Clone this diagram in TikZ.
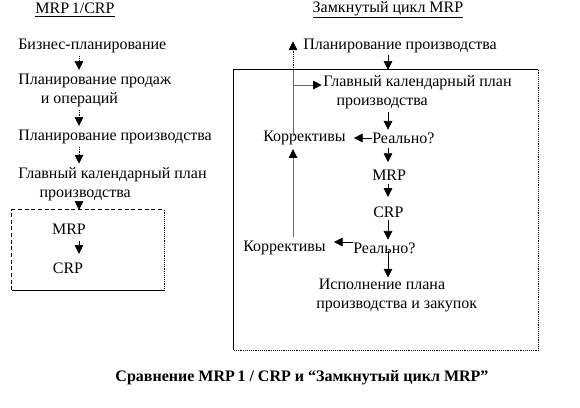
\documentclass[tikz,border=0pt]{standalone}
\usepackage{fontspec}
\setmainfont{Liberation Serif}
\usetikzlibrary{arrows.meta,positioning}

\tikzset{
  lbl/.style={anchor=west, align=left, inner sep=0pt},
  ttl/.style={inner sep=0pt},
  tip/.style={-{Triangle[length=6.5pt,width=6.5pt,color=black]}},
  dotarr/.style={tip, densely dotted},
  arr/.style={tip},
  backline/.style={gray!80!black, semithick}
}

\begin{document}
\begin{tikzpicture}[
  x=0.75pt, y=-0.75pt,
  font=\fontsize{12}{14.25}\selectfont
]

\useasboundingbox (0,0) rectangle (580,407);

% column guides
\coordinate (lx) at (79,0);
\coordinate (rx) at (388,0);
\coordinate (kx) at (293,0);

% ==================== LEFT: MRP 1 / CRP ====================
\node[ttl] (ltitle) at (75,10) {\underline{MRP\,1/CRP}};

\node[lbl] (biz)   at (18,46)   {Бизнес-планирование};
\node[lbl] (sales) at (18,90.5) {Планирование продаж\\\hspace*{17pt}и операций};
\node[lbl] (plan)  at (18,137)  {Планирование производства};
\node[lbl] (mps)   at (18,184.5){Главный календарный план\\\hspace*{16pt}производства};

% dotted box
\node[minimum width=114pt, minimum height=60pt, inner sep=0pt] (lbox) at (88,250) {};
\draw[densely dashed] (lbox.south west) -- (lbox.north west) -- (lbox.north east);
\draw[densely dotted] (lbox.north east) -- (lbox.south east);
\draw (lbox.south east) -- (lbox.south west);

\node[ttl] (mrp1) at (69,229) {MRP};
\node[ttl] (crp1) at (68,268) {CRP};

\draw[dotarr] ([yshift=-2pt]biz.south -| lx)   -- ([yshift=3pt]sales.north -| lx);
\draw[dotarr] ([yshift=-2pt]sales.south -| lx) -- ([yshift=3pt]plan.north -| lx);
\draw[dotarr] ([yshift=-2pt]plan.south -| lx)  -- ([yshift=3pt]mps.north -| lx);
\draw[dotarr] ([yshift=-1pt]mps.south -| lx)   -- (lbox.north -| lx);
\draw[arr, shorten <=4.9pt, shorten >=6.4pt] (mrp1.south -| lx) -- (crp1.north -| lx);

% ==================== RIGHT: closed-loop MRP ====================
\node[ttl] (rtitle) at (388,10) {\underline{Замкнутый цикл MRP}};

\node[lbl] (plan2) at (303,46) {Планирование производства};

\node[minimum width=228pt, minimum height=210pt, inner sep=0pt] (rbox) at (386,210) {};
\draw (rbox.south west) -- (rbox.north west) -- (rbox.north east);
\draw[densely dotted] (rbox.north east) -- (rbox.south east) -- (rbox.south west);

\node[lbl] (mps2)  at (323,92.5) {Главный календарный план\\\hspace*{10pt}производства};
\node[lbl] (real1) at (372,138)  {Реально?};
\node[lbl] (korr1) at (263,138)  {Коррективы};
\node[lbl] (mrp2)  at (372,175)  {MRP};
\node[lbl] (crp2)  at (373,212)  {CRP};
\node[lbl] (real2) at (353,248)  {Реально?};
\node[lbl] (korr2) at (243,248)  {Коррективы};
\node[lbl] (exec)  at (316,295.5){\hspace*{2pt}Исполнение плана\\производства и закупок};

\draw[arr] ([yshift=-1pt]plan2.south -| rx) -- (rbox.north -| rx);
\draw[arr, shorten <=2pt, shorten >=2pt] (mps2.south -| rx) -- (real1.north -| rx);
\draw[arr, shorten >=6pt] (real1.west) -- (korr1.east);
\draw[arr, shorten <=3.4pt, shorten >=5.6pt] (real1.south -| rx) -- (mrp2.north -| rx);
\draw[arr, shorten <=2.6pt, shorten >=7.1pt] (mrp2.south -| rx) -- (crp2.north -| rx);
\draw[arr, shorten <=2pt, shorten >=2pt] (crp2.south -| rx) -- (real2.north -| rx);
\draw[arr, shorten >=6pt] ([yshift=4.5pt]real2.west) -- ([yshift=4.5pt]korr2.east);
\draw[arr, shorten >=1pt] ([yshift=-2pt]real2.center -| rx) -- (exec.north -| rx);

% corrections loop
\coordinate (branch) at (293,85);
\draw[backline, tip, shorten <=3pt, shorten >=3pt] (korr2.north -| kx) -- (korr1.south -| kx);
\draw[backline] ([yshift=-4pt]korr1.north -| kx) -- (rbox.north -| kx);
\draw[dotarr] (rbox.north -| kx) -- ([yshift=-2pt]plan2.north -| kx);
\draw[backline, tip, shorten >=1pt] (branch) -- (branch -| mps2.west);

% caption
\node[ttl, font=\fontsize{12}{14}\selectfont\bfseries] (caption) at (302,378)
  {Сравнение MRP\,1 / CRP и “Замкнутый цикл MRP”};

\end{tikzpicture}
\end{document}
